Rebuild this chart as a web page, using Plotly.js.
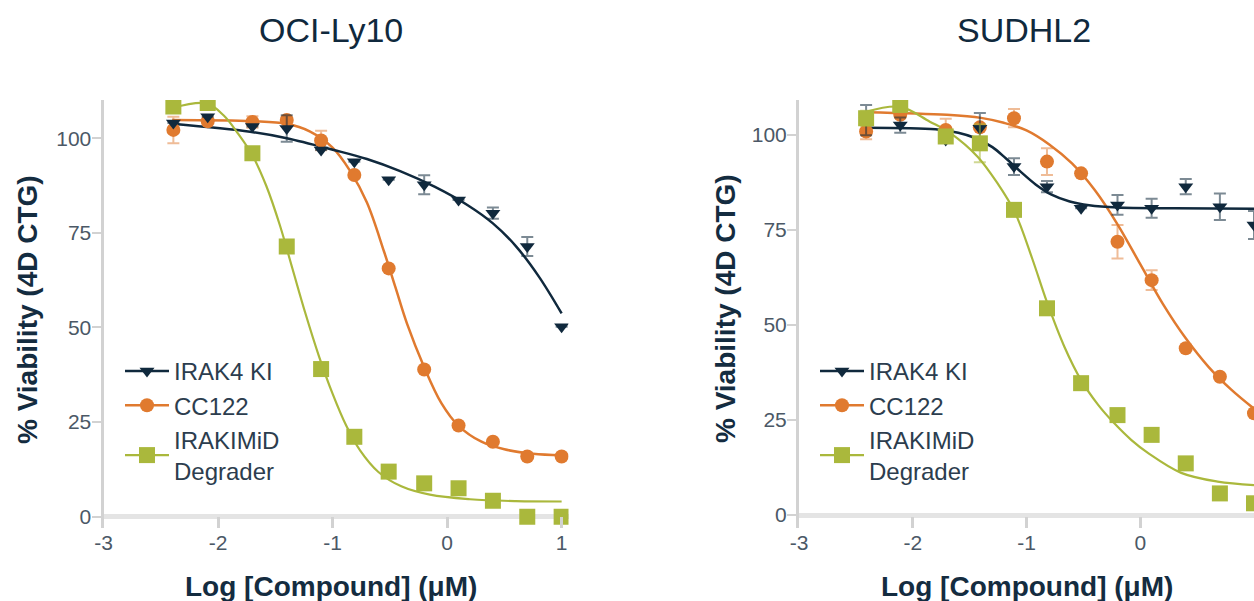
<!DOCTYPE html>
<html>
<head>
<meta charset="utf-8">
<script src="https://cdn.plot.ly/plotly-3.0.1.min.js"></script>
<style>
html,body{margin:0;padding:0;background:#ffffff;}
#chart{width:1254px;height:601px;}
</style>
</head>
<body>
<div id="chart"></div>
<script>
// ---------- data ----------
const panelTitles = ['OCI-Ly10', 'SUDHL2'];
const seriesNames = ['IRAK4 KI', 'CC122', 'IRAKIMiD<br>Degrader'];
const xTickVals = [-3, -2, -1, 0, 1];
const xTickText = ['-3', '-2', '-1', '0', '1'];
const yTickVals = [0, 25, 50, 75, 100];
const xAxisTitle = 'Log [Compound] (μM)';
const yAxisTitle = '% Viability (4D CTG)';

// OCI-Ly10 measured points
const ly10LogConc   = [-2.39, -2.09, -1.70, -1.40, -1.10, -0.81, -0.51, -0.20, 0.10, 0.40, 0.70, 1.00];
const ly10Irak4     = [104.0, 105.7, 103.1, 102.6, 96.9, 93.8, 89.0, 87.7, 83.7, 80.2, 71.4, 50.2];
const ly10Irak4Err  = [0, 0, 0, 3.5, 0, 0, 0, 2.5, 0, 1.5, 2.5, 0];
const ly10Cc122     = [102.2, 104.5, 104.3, 104.8, 99.4, 90.3, 65.6, 38.9, 24.1, 19.8, 15.9, 15.9];
const ly10Cc122Err  = [3.5, 0, 1.5, 0, 2.6, 0, 0, 0, 0, 0, 0, 0];
const ly10Irakimid  = [108.4, 109.3, 96.0, 71.4, 39.0, 21.1, 11.9, 8.8, 7.5, 4.2, 0.0, 0.0];
const ly10IrakimidErr = [0, 0, 0, 0, 0, 0, 0, 0, 0, 0, 0, 0];

// OCI-Ly10 fitted curves
const ly10Irak4FitX = [-2.40, -1.72, -1.40, -0.99, -0.70, -0.41, -0.11, 0.18, 0.40, 0.60, 0.80, 1.00];
const ly10Irak4FitY = [103.8, 101.7, 100.0, 96.9, 94.5, 91.3, 87.2, 82.3, 77.5, 71.5, 63.5, 53.7];
const ly10Cc122FitX = [-2.40, -1.70, -1.40, -1.20, -1.00, -0.85, -0.70, -0.55, -0.45, -0.35, -0.20, -0.05, 0.10, 0.30, 0.50, 0.75, 1.00];
const ly10Cc122FitY = [104.8, 104.5, 103.8, 101.8, 97.5, 91.5, 83.0, 70.0, 60.5, 51.0, 39.5, 30.0, 24.0, 19.8, 17.8, 16.6, 16.2];
const ly10IrakimidFitX = [-2.40, -2.10, -1.95, -1.82, -1.70, -1.58, -1.46, -1.35, -1.24, -1.12, -1.00, -0.88, -0.76, -0.60, -0.40, -0.15, 0.20, 0.60, 1.00];
const ly10IrakimidFitY = [108.0, 109.2, 106.0, 101.0, 95.5, 87.5, 77.0, 65.5, 54.0, 42.5, 32.5, 24.0, 17.5, 11.8, 8.0, 5.8, 4.6, 4.1, 4.0];

// SUDHL2 measured points
const sudLogConc    = [-2.41, -2.11, -1.71, -1.41, -1.11, -0.82, -0.52, -0.20, 0.10, 0.40, 0.70, 1.00];
const sudIrak4      = [103.9, 102.6, 98.7, 101.8, 91.7, 86.4, 80.7, 81.6, 80.7, 86.4, 81.1, 76.3];
const sudIrak4Err   = [4.0, 2.0, 0, 4.0, 2.2, 1.5, 0, 2.6, 2.5, 2.0, 3.5, 3.7];
const sudCc122      = [100.9, 105.3, 101.3, 102.0, 104.4, 93.0, 89.9, 71.9, 61.8, 43.9, 36.4, 26.8];
const sudCc122Err   = [2.0, 0, 3.0, 0, 2.4, 3.5, 0, 4.4, 2.6, 0, 0, 0];
const sudIrakimid   = [104.4, 107.9, 99.6, 97.8, 80.3, 54.4, 34.7, 26.3, 21.1, 13.6, 5.7, 3.1];
const sudIrakimidErr = [2.0, 0, 0, 5.0, 0, 0, 0, 0, 0, 0, 0, 0];

// SUDHL2 fitted curves
const sudIrak4FitX = [-2.40, -1.80, -1.60, -1.45, -1.30, -1.18, -1.05, -0.92, -0.78, -0.62, -0.45, -0.20, 0.30, 1.00];
const sudIrak4FitY = [101.9, 101.5, 100.6, 99.2, 96.8, 93.8, 90.3, 87.0, 84.3, 82.5, 81.5, 80.9, 80.7, 80.6];
const sudCc122FitX = [-2.41, -1.70, -1.40, -1.20, -1.00, -0.80, -0.60, -0.40, -0.20, 0.00, 0.20, 0.40, 0.60, 0.80, 1.00];
const sudCc122FitY = [106.0, 105.3, 104.5, 103.2, 101.2, 97.5, 92.5, 85.5, 76.5, 66.0, 55.5, 46.5, 39.0, 33.0, 28.0];
const sudIrakimidFitX = [-2.41, -2.11, -1.85, -1.67, -1.43, -1.26, -1.10, -0.95, -0.82, -0.67, -0.52, -0.37, -0.23, -0.08, 0.07, 0.36, 0.68, 1.00];
const sudIrakimidFitY = [106.1, 107.4, 103.5, 100.5, 94.3, 87.5, 79.5, 67.5, 56.0, 44.5, 35.5, 29.0, 24.2, 19.8, 16.3, 11.1, 8.8, 7.9];

// ---------- styling ----------
const FONT = 'Liberation Sans, Arial, Helvetica, sans-serif';
const colors = ['#10293d', '#e07a2f', '#aab83c'];
const errColors = ['rgba(16,41,61,0.55)', 'rgba(224,122,47,0.5)', 'rgba(170,184,60,0.55)'];
const symbols = ['triangle-down', 'circle', 'square'];
const markerSizes = [13, 14, 16];
const lineWidths = [2.5, 2.5, 2.2];

const W = 1254, H = 601;
const plotTop = 100, plotBottom = 528;
const py = p => (plotBottom - p) / (plotBottom - plotTop);
const px = p => p / W;

const panels = [
  { xa: 'x', ya: 'y', legend: 'legend',
    pts: [[ly10LogConc, ly10Irak4, ly10Irak4Err], [ly10LogConc, ly10Cc122, ly10Cc122Err], [ly10LogConc, ly10Irakimid, ly10IrakimidErr]],
    fits: [[ly10Irak4FitX, ly10Irak4FitY], [ly10Cc122FitX, ly10Cc122FitY], [ly10IrakimidFitX, ly10IrakimidFitY]] },
  { xa: 'x2', ya: 'y2', legend: 'legend2',
    pts: [[sudLogConc, sudIrak4, sudIrak4Err], [sudLogConc, sudCc122, sudCc122Err], [sudLogConc, sudIrakimid, sudIrakimidErr]],
    fits: [[sudIrak4FitX, sudIrak4FitY], [sudCc122FitX, sudCc122FitY], [sudIrakimidFitX, sudIrakimidFitY]] }
];

const traces = [];
const drawOrder = [1, 0, 2];
panels.forEach(p => {
  drawOrder.forEach(i => {
    traces.push({
      type: 'scatter', mode: 'lines', x: p.fits[i][0], y: p.fits[i][1],
      xaxis: p.xa, yaxis: p.ya, showlegend: false, hoverinfo: 'skip',
      line: { color: colors[i], width: lineWidths[i], shape: 'spline', smoothing: 1 }
    });
  });
  drawOrder.forEach(i => {
    traces.push({
      type: 'scatter', mode: 'markers', x: p.pts[i][0], y: p.pts[i][1],
      xaxis: p.xa, yaxis: p.ya, showlegend: false,
      marker: { color: colors[i], symbol: symbols[i], size: markerSizes[i], line: { width: 0 } },
      error_y: { type: 'data', array: p.pts[i][2], visible: true, color: errColors[i], thickness: 2, width: 6 }
    });
  });
  [0, 1, 2].forEach(i => {
    traces.push({
      type: 'scatter', mode: 'lines+markers', x: [null], y: [null],
      xaxis: p.xa, yaxis: p.ya, name: seriesNames[i], legend: p.legend, showlegend: true,
      line: { color: colors[i], width: lineWidths[i] },
      marker: { color: colors[i], symbol: symbols[i], size: markerSizes[i] }
    });
  });
});

const tickFont = { family: FONT, size: 21, color: '#4b5866' };
function xAxis(domain, range, anchor) {
  return { domain, range, anchor, showline: false, zeroline: false, showgrid: false,
    ticks: 'inside', ticklen: 11, tickwidth: 3, tickcolor: '#d2d2d2',
    tickmode: 'array', tickvals: xTickVals, ticktext: xTickText, tickfont: tickFont, fixedrange: true };
}
function yAxis(range, anchor) {
  return { domain: [0, 1], range, anchor, showline: true, linecolor: '#d2d2d2', linewidth: 3,
    ticks: 'outside', ticklen: 9, tickwidth: 2, tickcolor: '#d2d2d2', ticklabelstandoff: -4,
    tickmode: 'array', tickvals: yTickVals, tickfont: tickFont, showgrid: false,
    zeroline: true, zerolinecolor: '#e4e4e4', zerolinewidth: 5, fixedrange: true };
}
function legendBox(leftPx) {
  return { x: px(leftPx), y: py(349), xanchor: 'left', yanchor: 'top', bgcolor: 'rgba(0,0,0,0)',
    borderwidth: 0, font: { family: FONT, size: 24, color: '#2c3d4e' }, itemwidth: 44,
    tracegroupgap: 0, traceorder: 'normal' };
}

const titleFont = { family: FONT, size: 34, color: '#10293d' };
const axTitleFont = { family: FONT, size: 28, color: '#142c40', weight: 'bold' };
const annotations = [
  { text: panelTitles[0], x: px(331), y: py(29.5) },
  { text: panelTitles[1], x: px(1024), y: py(29.5) }
].map(a => Object.assign(a, { xref: 'paper', yref: 'paper', showarrow: false, xanchor: 'center', yanchor: 'middle', font: titleFont }));
[[27, 310], [725, 309]].forEach(([x, y]) => annotations.push({
  text: '<b>' + yAxisTitle + '</b>', x: px(x), y: py(y), xref: 'paper', yref: 'paper', showarrow: false,
  textangle: -90, xanchor: 'center', yanchor: 'middle', font: axTitleFont }));
[[330.5, 586], [1027, 586]].forEach(([x, y]) => annotations.push({
  text: '<b>' + xAxisTitle + '</b>', x: px(x), y: py(y), xref: 'paper', yref: 'paper', showarrow: false,
  xanchor: 'center', yanchor: 'middle', font: axTitleFont }));

const layout = {
  width: W, height: H,
  margin: { l: 0, r: 0, t: plotTop, b: H - plotBottom, pad: 0 },
  paper_bgcolor: '#ffffff', plot_bgcolor: '#ffffff',
  font: { family: FONT },
  showlegend: true,
  xaxis: xAxis([px(103.5), px(568.5)], [-3, 1.06], 'y'),
  yaxis: yAxis([-3.0, 110.1], 'x'),
  xaxis2: xAxis([px(799), 1], [-3, 1.0], 'y2'),
  yaxis2: yAxis([-3.4, 109.2], 'x2'),
  legend: legendBox(120),
  legend2: legendBox(815),
  annotations
};

Plotly.newPlot('chart', traces, layout, { displayModeBar: false, staticPlot: true });
</script>
</body>
</html>
